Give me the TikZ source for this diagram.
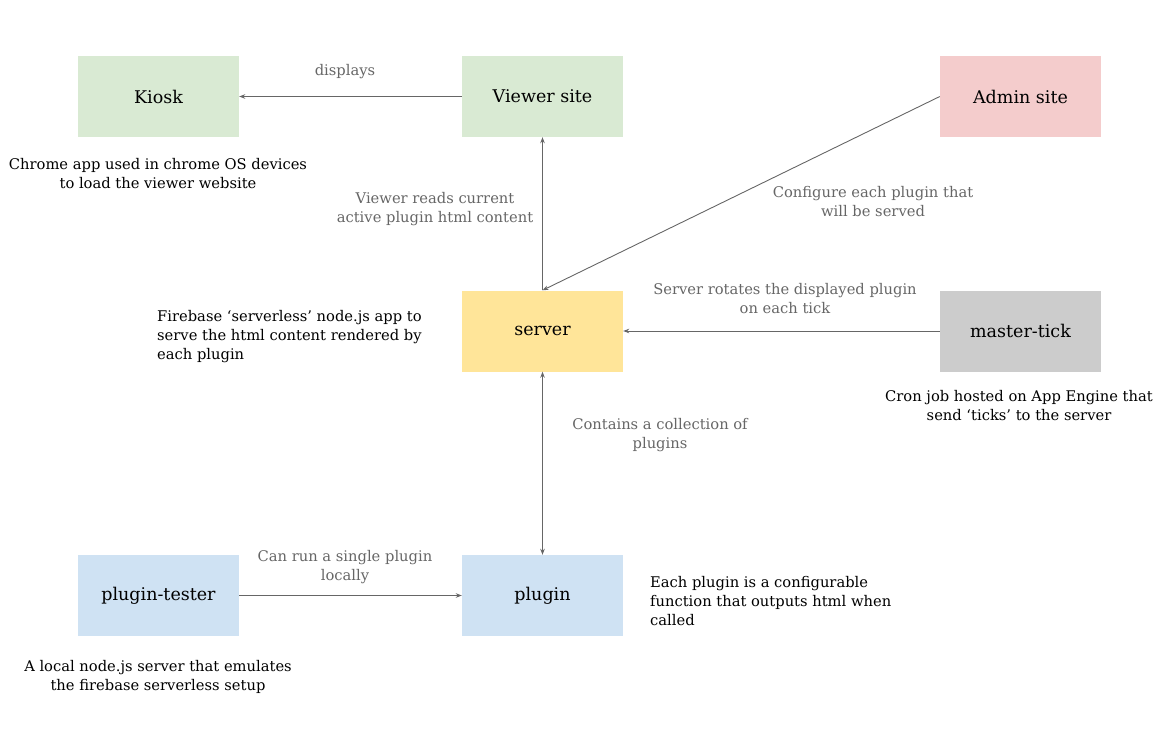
\documentclass[tikz,border=0pt]{standalone}
\usepackage{fontspec}
\setmainfont{DejaVu Serif}
\usetikzlibrary{arrows.meta}
\definecolor{kioskgreen}{HTML}{D9EAD3}
\definecolor{adminpink}{HTML}{F4CCCC}
\definecolor{serveryellow}{HTML}{FFE599}
\definecolor{tickgray}{HTML}{CCCCCC}
\definecolor{pluginblue}{HTML}{CFE2F3}
\definecolor{labelgray}{HTML}{666666}
\definecolor{linegray}{HTML}{666666}
\begin{document}
\begin{tikzpicture}[x=1pt,y=-1pt,
  box/.style={rectangle,minimum width=161pt,minimum height=81pt,inner sep=0pt,font=\fontsize{17.5}{20}\selectfont},
  note/.style={align=center,inner sep=0pt,font=\fontsize{14.7}{19}\selectfont},
  tag/.style={note,text=labelgray},
  link/.style={draw=linegray,line width=0.9pt,-{Stealth[length=6pt,width=4.5pt]}},
  twoway/.style={link,{Stealth[length=6pt,width=4.5pt]}-{Stealth[length=6pt,width=4.5pt]}}]

  \useasboundingbox (0,0) rectangle (1175,749);

  \node[box,fill=kioskgreen] (kiosk) at (158.5,96.5) {Kiosk};
  \node[box,fill=kioskgreen] (viewer) at (542.5,96.5) {Viewer site};
  \node[box,fill=adminpink] (admin) at (1020.5,96.5) {Admin site};
  \node[box,fill=serveryellow] (server) at (542.5,331) {server};
  \node[box,fill=tickgray] (tick) at (1020.5,331) {master-tick};
  \node[box,fill=pluginblue] (tester) at (158.5,595.5) {plugin-tester};
  \node[box,fill=pluginblue] (plugin) at (542.5,595.5) {plugin};

  \node[note] (kioskinfo) at (158,174) {Chrome app used in chrome OS devices\\to load the viewer website};
  \node[note,align=left,anchor=west] (serverinfo) at (157,337) {Firebase ‘serverless’ node.js app to\\serve the html content rendered by\\each plugin};
  \node[note] (tickinfo) at (1019,406) {Cron job hosted on App Engine that\\send ‘ticks’ to the server};
  \node[note,align=left,anchor=west] (plugininfo) at (650,601) {Each plugin is a configurable\\function that outputs html when\\called};
  \node[note] (testerinfo) at (158,677) {A local node.js server that emulates\\the firebase serverless setup};

  \node[tag] (displays) at (345,72) {displays};
  \node[tag] (reads) at (435,209) {Viewer reads current\\active plugin html content};
  \node[tag] (configure) at (873,202) {Configure each plugin that\\will be served};
  \node[tag] (rotates) at (785,299) {Server rotates the displayed plugin\\on each tick};
  \node[tag] (contains) at (660,435) {Contains a collection of\\plugins};
  \node[tag] (runs) at (345,567) {Can run a single plugin\\locally};

  \draw[link] (viewer) -- (kiosk);
  \draw[link] (server) -- (viewer);
  \draw[link] (admin.west) -- (server.north);
  \draw[link] (tick) -- (server);
  \draw[link] (tester) -- (plugin);
  \draw[twoway] (server) -- (plugin);
\end{tikzpicture}
\end{document}
